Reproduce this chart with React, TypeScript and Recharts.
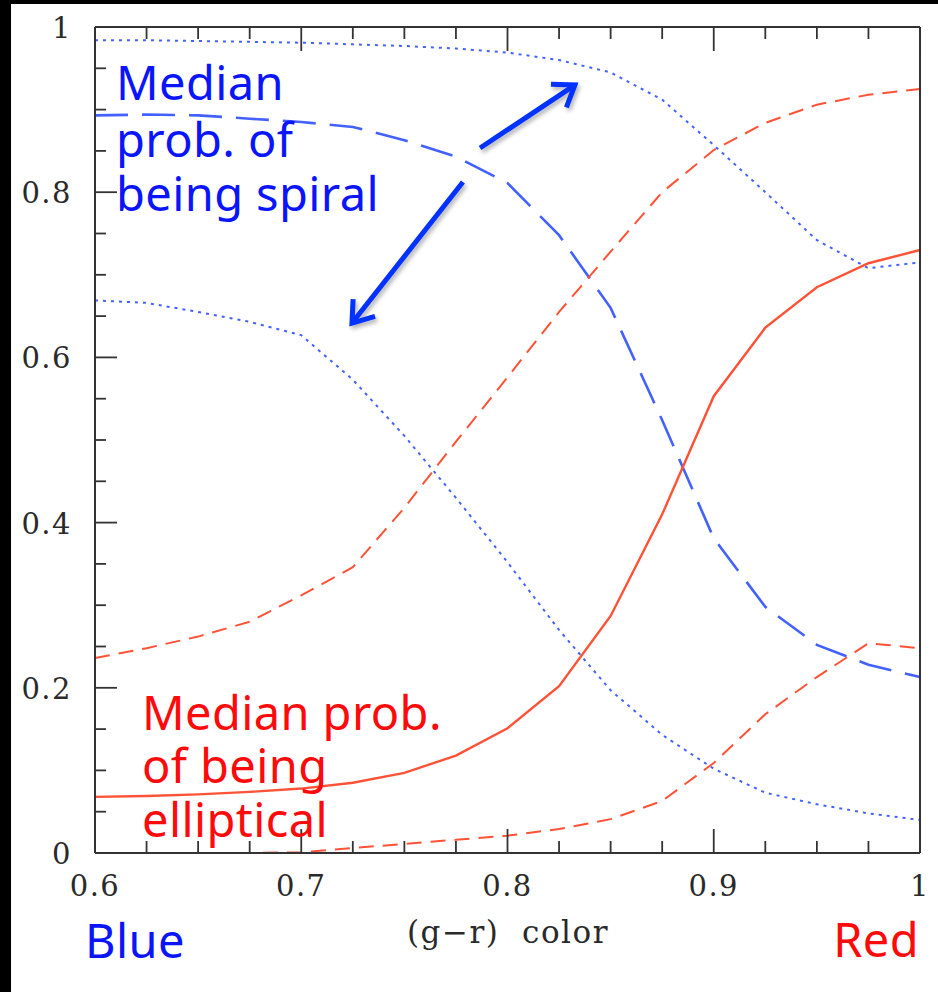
import React from 'react';
import { LineChart, Line, XAxis, YAxis, ReferenceLine } from 'recharts';

// (g-r) colour bins
const grColor = [0.6, 0.625, 0.65, 0.675, 0.7, 0.725, 0.75, 0.775, 0.8, 0.825, 0.85, 0.875, 0.9, 0.925, 0.95, 0.975, 1.0];

// probability of being spiral (blue)
const spiralMedian = [0.893, 0.894, 0.893, 0.889, 0.885, 0.879, 0.863, 0.843, 0.811, 0.748, 0.66, 0.524, 0.381, 0.298, 0.252, 0.228, 0.213];
const spiralUpper = [0.984, 0.984, 0.983, 0.982, 0.981, 0.979, 0.977, 0.974, 0.969, 0.96, 0.945, 0.912, 0.857, 0.8, 0.742, 0.708, 0.715];
const spiralLower = [0.669, 0.666, 0.655, 0.643, 0.627, 0.573, 0.505, 0.43, 0.352, 0.27, 0.197, 0.143, 0.102, 0.073, 0.059, 0.048, 0.04];

// probability of being elliptical (red)
const ellMedian = [0.068, 0.069, 0.071, 0.074, 0.078, 0.085, 0.097, 0.118, 0.151, 0.202, 0.287, 0.41, 0.553, 0.636, 0.685, 0.714, 0.73];
const ellUpper = [0.236, 0.248, 0.262, 0.28, 0.312, 0.346, 0.418, 0.498, 0.576, 0.655, 0.728, 0.8, 0.851, 0.884, 0.906, 0.918, 0.925];
const ellLower = [0, 0, 0, 0, 0.001, 0.006, 0.011, 0.016, 0.021, 0.029, 0.041, 0.063, 0.109, 0.168, 0.213, 0.254, 0.248];

const xTicks = [0.6, 0.625, 0.65, 0.675, 0.7, 0.725, 0.75, 0.775, 0.8, 0.825, 0.85, 0.875, 0.9, 0.925, 0.95, 0.975, 1];
const yTicks = [0, 0.05, 0.1, 0.15, 0.2, 0.25, 0.3, 0.35, 0.4, 0.45, 0.5, 0.55, 0.6, 0.65, 0.7, 0.75, 0.8, 0.85, 0.9, 0.95, 1];

// arrow annotations, in data units
const arrowUp = [{ x: 0.7867, y: 0.8535 }, { x: 0.8327, y: 0.9298 }];
const arrowDown = [{ x: 0.7784, y: 0.8123 }, { x: 0.7246, y: 0.6416 }];

const data = grColor.map((x, i) => ({
  x,
  spiralMedian: spiralMedian[i],
  spiralUpper: spiralUpper[i],
  spiralLower: spiralLower[i],
  ellMedian: ellMedian[i],
  ellUpper: ellUpper[i],
  ellLower: ellLower[i],
}));

const BLUE_LINE = '#4361ff';
const RED_LINE = '#ff5236';
const AXIS = '#333';

const isMajorX = (v: number) => Math.abs(v * 10 - Math.round(v * 10)) < 1e-6;
const isMajorY = (v: number) => Math.abs(v * 5 - Math.round(v * 5)) < 1e-6;

const tickFont = { fontFamily: 'DejaVu Serif', fontSize: 29, fill: '#2a2a2a', letterSpacing: 1.5 };

function FrameTick(props: any) {
  const { x = 0, y = 0, payload, side } = props;
  const v = payload ? payload.value : 0;
  const horiz = side === 'bottom' || side === 'top';
  const major = horiz ? isMajorX(v) : isMajorY(v);
  const len = horiz ? (major ? 24 : 12) : major ? 22 : 11;
  let x2 = x;
  let y2 = y;
  if (side === 'bottom') y2 = y - len;
  if (side === 'top') y2 = y + len;
  if (side === 'left') x2 = x + len;
  if (side === 'right') x2 = x - len;
  return (
    <g>
      <line x1={x} y1={y} x2={x2} y2={y2} stroke={AXIS} strokeWidth={1.8} />
      {major && side === 'bottom' && (
        <text x={x} y={y + 33} textAnchor="middle" dominantBaseline="central" {...tickFont}>
          {String(v)}
        </text>
      )}
      {major && side === 'left' && (
        <text x={x - 23} y={y + 1} textAnchor="end" dominantBaseline="central" {...tickFont}>
          {String(v)}
        </text>
      )}
    </g>
  );
}

const arrowShape = (id: string) => (props: any) => {
  const { x1, y1, x2, y2 } = props;
  const ang = Math.atan2(y2 - y1, x2 - x1);
  const head = 24;
  const spread = 0.62;
  const ax = x2 - head * Math.cos(ang - spread);
  const ay = y2 - head * Math.sin(ang - spread);
  const bx = x2 - head * Math.cos(ang + spread);
  const by = y2 - head * Math.sin(ang + spread);
  return (
    <g>
      <defs>
        <filter id={id} x="-20%" y="-20%" width="140%" height="140%">
          <feDropShadow dx="2" dy="3" stdDeviation="2" floodColor="#000" floodOpacity="0.3" />
        </filter>
      </defs>
      <g filter={`url(#${id})`} stroke="#0530ff" strokeWidth={5} fill="none">
        <line x1={x1} y1={y1} x2={x2 - 2 * Math.cos(ang)} y2={y2 - 2 * Math.sin(ang)} />
        <polyline points={`${ax},${ay} ${x2},${y2} ${bx},${by}`} strokeLinejoin="miter" />
      </g>
    </g>
  );
};

const labelFont = { fontFamily: 'Noto Sans', fontSize: 47, letterSpacing: 0.4 };

export default function App() {
  return (
    <div style={{ position: 'absolute', left: 0, top: 0, width: 938, height: 992, background: '#000' }}>
      <div style={{ position: 'absolute', left: 11, top: 4, right: 0, bottom: 0, background: '#fff' }} />
      <div style={{ position: 'absolute', left: 0, top: 0 }}>
        <LineChart width={938} height={992} data={data} margin={{ top: 26, right: 17, bottom: 138, left: 94 }}>
          <XAxis
            dataKey="x"
            type="number"
            domain={[0.6, 1]}
            ticks={xTicks}
            interval={0}
            height={1}
            tickSize={0}
            tickMargin={0}
            tickLine={false}
            axisLine={{ stroke: AXIS, strokeWidth: 2 }}
            tick={(p: any) => <FrameTick {...p} side="bottom" />}
          />
          <XAxis
            xAxisId="top"
            orientation="top"
            dataKey="x"
            type="number"
            domain={[0.6, 1]}
            ticks={xTicks}
            interval={0}
            height={1}
            tickSize={0}
            tickMargin={0}
            tickLine={false}
            axisLine={{ stroke: AXIS, strokeWidth: 2 }}
            tick={(p: any) => <FrameTick {...p} side="top" />}
          />
          <YAxis
            type="number"
            domain={[0, 1]}
            ticks={yTicks}
            interval={0}
            width={1}
            tickSize={0}
            tickMargin={0}
            tickLine={false}
            axisLine={{ stroke: AXIS, strokeWidth: 2 }}
            tick={(p: any) => <FrameTick {...p} side="left" />}
          />
          <YAxis
            yAxisId="right"
            orientation="right"
            type="number"
            domain={[0, 1]}
            ticks={yTicks}
            interval={0}
            width={1}
            tickSize={0}
            tickMargin={0}
            tickLine={false}
            axisLine={{ stroke: AXIS, strokeWidth: 2 }}
            tick={(p: any) => <FrameTick {...p} side="right" />}
          />
          <Line dataKey="spiralUpper" type="linear" stroke={BLUE_LINE} strokeWidth={2} strokeDasharray="3 5" dot={false} isAnimationActive={false} />
          <Line dataKey="spiralLower" type="linear" stroke={BLUE_LINE} strokeWidth={2} strokeDasharray="3 5" dot={false} isAnimationActive={false} />
          <Line dataKey="spiralMedian" type="linear" stroke={BLUE_LINE} strokeWidth={2.6} strokeDasharray="33 14" dot={false} isAnimationActive={false} />
          <Line dataKey="ellUpper" type="linear" stroke={RED_LINE} strokeWidth={2} strokeDasharray="15 9" dot={false} isAnimationActive={false} />
          <Line dataKey="ellLower" type="linear" stroke={RED_LINE} strokeWidth={2} strokeDasharray="15 9" dot={false} isAnimationActive={false} />
          <Line dataKey="ellMedian" type="linear" stroke={RED_LINE} strokeWidth={2.4} dot={false} isAnimationActive={false} />
          <ReferenceLine segment={arrowUp} shape={arrowShape('shUp')} />
          <ReferenceLine segment={arrowDown} shape={arrowShape('shDown')} />
        </LineChart>
      </div>
      <svg width={938} height={992} style={{ position: 'absolute', left: 0, top: 0, pointerEvents: 'none' }}>
        <text {...labelFont} fill="#0a14ff">
          <tspan x={116} y={100}>Median</tspan>
          <tspan x={116} y={157}>prob. of</tspan>
          <tspan x={116} y={211}>being spiral</tspan>
        </text>
        <text {...labelFont} fill="#ff0a0a">
          <tspan x={142} y={730}>Median prob.</tspan>
          <tspan x={142} y={783}>of being</tspan>
          <tspan x={142} y={837}>elliptical</tspan>
        </text>
        <text {...labelFont} x={85} y={958} fill="#0a14ff">Blue</text>
        <text {...labelFont} x={919} y={957} textAnchor="end" fill="#ff0a0a">Red</text>
        <text x={508} y={943} textAnchor="middle" fontFamily="DejaVu Serif" fontSize={31} letterSpacing={1.5} fill="#2a2a2a">
          {'(g\u2212r)\u00a0 color'}
        </text>
      </svg>
    </div>
  );
}
